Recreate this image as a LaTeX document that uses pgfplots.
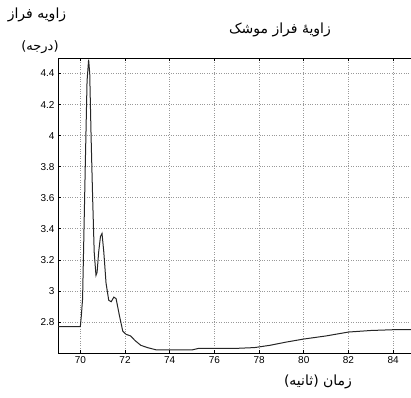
\documentclass[border=0pt]{standalone}
\usepackage{pgfplots}
\pgfplotsset{compat=1.18}
\usepackage{fontspec}
\setmainfont{Liberation Sans}
\newfontfamily\arabicfont[Script=Arabic]{DejaVu Sans}
\TeXXeTstate=1
\begin{document}
\begin{tikzpicture}[x=1pt,y=1pt]
\path[use as bounding box] (-58,-44) rectangle (353,353);
\begin{axis}[
  at={(0,0)}, anchor=origin,
  scale only axis,
  width=357.5pt, height=295pt,
  xmin=69, xmax=85, ymin=2.6, ymax=4.5,
  xtick={70,72,...,84},
  ytick={2.8,3,3.2,3.4,3.6,3.8,4,4.2,4.4},
  grid=major,
  grid style={dotted, gray!80, line width=0.6pt},
  tick align=inside,
  major tick length=3pt,
  tick style={black, line width=0.6pt},
  axis line style={black, line width=0.9pt},
  ticklabel style={font=\normalsize},
  /pgf/number format/assume math mode=true,
  yticklabel style={/pgf/number format/fixed, /pgf/number format/precision=1},
  xticklabel style={/pgf/number format/fixed},
]
\addplot[black!85, line width=1pt] coordinates {
(69,2.77) (70,2.77) (70.05,2.85) (70.1,2.95) (70.15,3.3) (70.22,3.8) (70.3,4.35)
(70.37,4.49) (70.42,4.4) (70.48,4.0) (70.55,3.6) (70.62,3.25) (70.7,3.1)
(70.75,3.12) (70.82,3.25) (70.9,3.35) (70.97,3.37) (71.05,3.25) (71.15,3.05)
(71.27,2.94) (71.38,2.93) (71.5,2.96) (71.6,2.95) (71.75,2.84) (71.9,2.74)
(72.05,2.72) (72.25,2.71) (72.45,2.68) (72.7,2.65) (73.0,2.635) (73.4,2.62)
(74,2.62) (75,2.62) (75.3,2.63) (76,2.63) (77,2.63) (77.8,2.635) (78.5,2.65)
(79.2,2.67) (80,2.69) (81,2.71) (82,2.735) (83,2.745) (84,2.75) (85,2.75)
};
\end{axis}
\node[font=\arabicfont\fontsize{14}{16}\selectfont] at (222,323) {\beginR زاویهٔ فراز موشک\endR};
\node[font=\arabicfont\fontsize{14}{16}\selectfont] at (-21,338) {\beginR زاویه فراز\endR};
\node[font=\arabicfont\fontsize{13}{16}\selectfont] at (-18,306) {\beginR (درجه)\endR};
\node[font=\arabicfont\fontsize{14}{16}\selectfont] at (260,-29) {\beginR زمان (ثانیه)\endR};
\end{tikzpicture}
\end{document}
